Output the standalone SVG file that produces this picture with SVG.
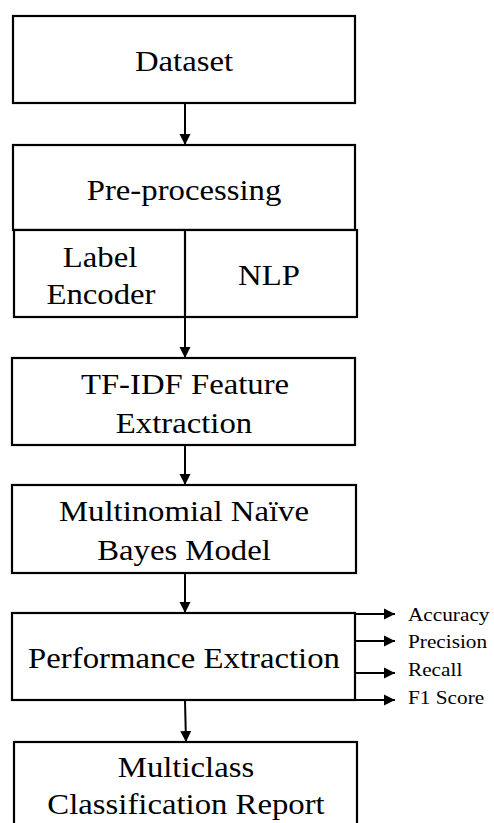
<svg xmlns="http://www.w3.org/2000/svg" width="494" height="823" viewBox="0 0 494 823">
<style>
.box{fill:#fff;stroke:#000;stroke-width:2.2}
.ln{fill:none;stroke:#000;stroke-width:2}
.t{font-family:'Liberation Serif','DejaVu Serif',serif;font-size:29.5px;fill:#000;text-anchor:middle}
.s{font-family:'Liberation Serif','DejaVu Serif',serif;font-size:19px;fill:#000}
</style>
<defs>
<marker id="ah" markerWidth="12" markerHeight="12" refX="11" refY="6" orient="auto" markerUnits="userSpaceOnUse">
<path d="M0,0.5 L11,6 L0,11.5 Z" fill="#000"/>
</marker>
</defs>
<g id="connectors">
<line class="ln" x1="185" y1="104" x2="185" y2="145" marker-end="url(#ah)"/>
<line class="ln" x1="185" y1="318" x2="185" y2="358" marker-end="url(#ah)"/>
<line class="ln" x1="185" y1="446" x2="185" y2="485" marker-end="url(#ah)"/>
<line class="ln" x1="185" y1="574" x2="185" y2="613" marker-end="url(#ah)"/>
<line class="ln" x1="185" y1="701" x2="186" y2="742" marker-end="url(#ah)"/>
<line class="ln" x1="355" y1="614" x2="395" y2="614" marker-end="url(#ah)"/>
<line class="ln" x1="355" y1="641" x2="395" y2="641" marker-end="url(#ah)"/>
<line class="ln" x1="355" y1="673" x2="395" y2="673" marker-end="url(#ah)"/>
<line class="ln" x1="355" y1="700" x2="395" y2="700" marker-end="url(#ah)"/>
</g>
<g id="dataset">
<rect class="box" x="13" y="16" width="342" height="87"/>
<text class="t" transform="translate(184,71) scale(1.11,1)">Dataset</text>
</g>
<g id="preprocessing">
<rect class="box" x="13" y="145" width="342" height="85"/>
<text class="t" transform="translate(184,200) scale(1.11,1)">Pre-processing</text>
</g>
<g id="subtasks">
<rect class="box" x="14" y="230" width="343" height="87"/>
<line class="ln" x1="185" y1="230" x2="185" y2="317" style="stroke-width:2.2"/>
<text class="t" transform="translate(100,267) scale(1.11,1)">Label</text>
<text class="t" transform="translate(101,304) scale(1.11,1)">Encoder</text>
<text class="t" transform="translate(269,285) scale(1.11,1)">NLP</text>
</g>
<g id="tfidf">
<rect class="box" x="12" y="358" width="343" height="87"/>
<text class="t" transform="translate(185,394) scale(1.11,1)">TF-IDF Feature</text>
<text class="t" transform="translate(184,433) scale(1.11,1)">Extraction</text>
</g>
<g id="mnb">
<rect class="box" x="12" y="485" width="344" height="88"/>
<text class="t" transform="translate(184,521) scale(1.11,1)">Multinomial Naïve</text>
<text class="t" transform="translate(184,560) scale(1.11,1)">Bayes Model</text>
</g>
<g id="performance">
<rect class="box" x="12" y="613" width="343" height="87"/>
<text class="t" transform="translate(184,668) scale(1.11,1)">Performance Extraction</text>
</g>
<g id="metrics">
<text class="s" transform="translate(408,621) scale(1.12,1)">Accuracy</text>
<text class="s" transform="translate(408,648) scale(1.12,1)">Precision</text>
<text class="s" transform="translate(408,676) scale(1.12,1)">Recall</text>
<text class="s" transform="translate(408,704) scale(1.12,1)">F1 Score</text>
</g>
<g id="report">
<rect class="box" x="14" y="742" width="343" height="95"/>
<text class="t" transform="translate(186,777) scale(1.11,1)">Multiclass</text>
<text class="t" transform="translate(186,814) scale(1.11,1)">Classification Report</text>
</g>
</svg>
